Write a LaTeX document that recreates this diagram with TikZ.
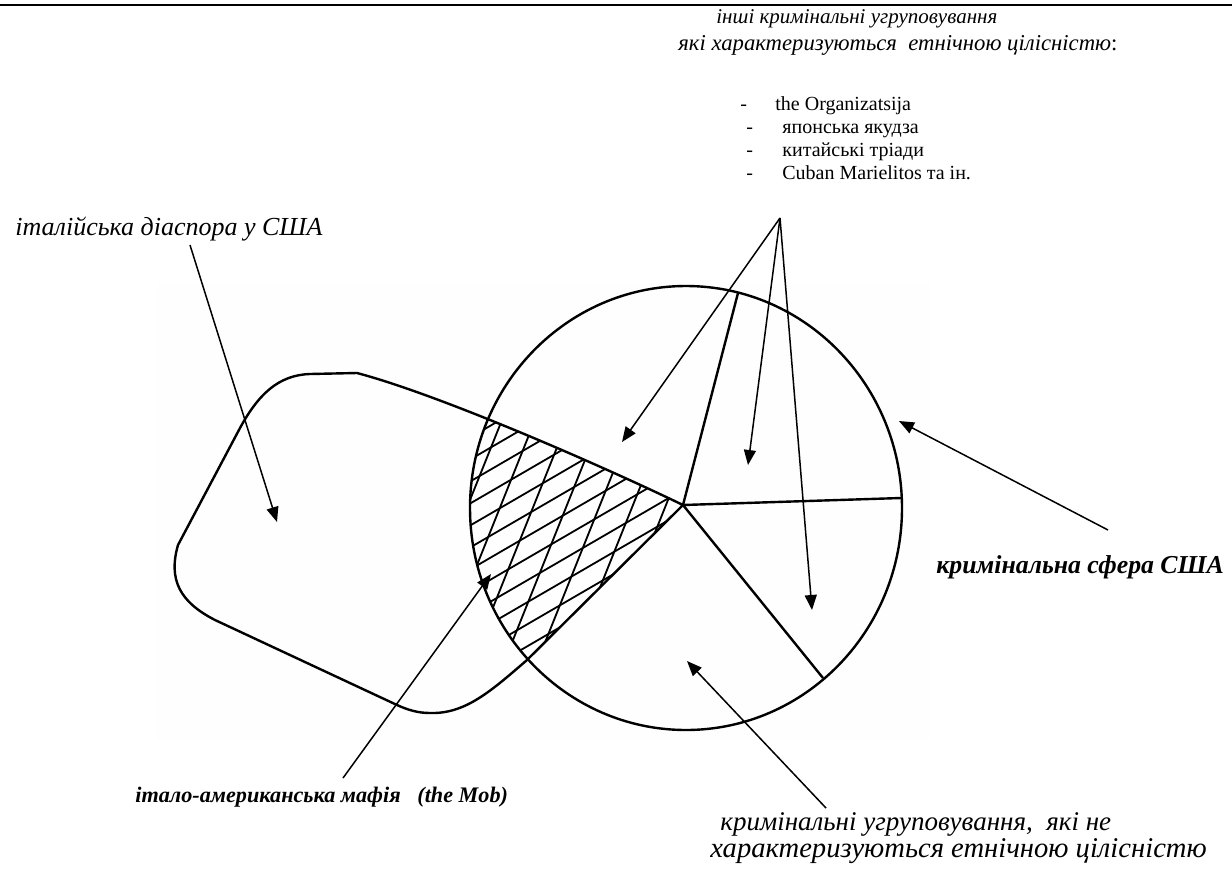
\documentclass[tikz,border=0pt]{standalone}
\usepackage{fontspec}
\setmainfont{Liberation Serif}
\usetikzlibrary{arrows.meta}

\begin{document}
\begin{tikzpicture}[x=0.5pt,y=-0.5pt,
  outl/.style={line width=1.2pt,line join=round},
  hatch/.style={line width=0.9pt},
  ptr/.style={line width=0.75pt,-{Triangle[length=7.5pt,width=6pt]}},
  lbl/.style={inner sep=0pt,anchor=base west,font=\itshape},
  itm/.style={inner sep=0pt,anchor=base west,font=\fontsize{10}{12}\selectfont}]
\definecolor{cbg}{rgb}{0.995,0.995,0.995}
%
\useasboundingbox (0,0) rectangle (1232,879);
\fill[cbg] (157,283) rectangle (930,740);
\draw[line width=1.2pt] (0,5) -- (1232,5);
%
\node[lbl,font=\itshape\fontsize{10.5}{12}\selectfont] (t0) at (716,23) {інші кримінальні угруповування};
\node[lbl,font=\itshape\fontsize{11.35}{13}\selectfont] (t1) at (678,50) {які характеризуються\ \ етнічною цілісністю{\upshape:}};
\node[itm] (d0) at (740,110) {-};
\node[itm] (i0) at (775,110) {the Organizatsija};
\node[itm] (d1) at (746,133) {-};
\node[itm] (i1) at (782,133) {японська якудза};
\node[itm] (d2) at (746,156) {-};
\node[itm] (i2) at (782,156) {китайські тріади};
\node[itm] (d3) at (746,179) {-};
\node[itm] (i3) at (782,179) {Cuban Marielitos та ін.};
\node[lbl,font=\itshape\fontsize{13}{15}\selectfont] (t2) at (15,235) {італійська діаспора у США};
\node[lbl,font=\bfseries\itshape\fontsize{12.9}{15}\selectfont] (t3) at (936,573) {кримінальна сфера США};
\node[lbl,font=\bfseries\itshape\fontsize{11.1}{13}\selectfont] (t4) at (135,802) {італо-американська мафія\ \ \ (the Mob)};
\node[lbl,font=\itshape\fontsize{13.5}{16}\selectfont] (t5) at (720,830) {кримінальні угруповування,\ \ які не};
\node[lbl,font=\itshape\fontsize{14.3}{16}\selectfont] (t6) at (710,857) {характеризуються етнічною цілісністю};
%
\coordinate (J) at (683,505);
\coordinate (q0) at (738,293);
\coordinate (q1) at (901,498);
\coordinate (q2) at (823,678);
\coordinate (q3) at (527,660);
%
\draw[outl] (310,374) -- (357,373) .. controls (440,395) and (600,465) .. (J) -- (q3)
  .. controls (490,692) and (465,714) .. (430,713) .. controls (418,713) and (408,710) .. (397,705)
  -- (215,620) .. controls (180,602) and (168,580) .. (178,545) -- (240,428)
  .. controls (258,395) and (278,375) .. (310,374) -- cycle;
\draw[outl] (686,508) ellipse [x radius=108pt,y radius=111pt];
\draw[outl] (J) -- (q0);
\draw[outl] (J) -- (q1);
\draw[outl] (J) -- (q2);
%
\begin{scope}
\clip (686,508) ellipse [x radius=108pt,y radius=111pt];
\clip (440,390) -- (357,373) .. controls (440,395) and (600,465) .. (J) -- (q3) -- (440,760) -- cycle;
\foreach \c in {455,477,...,710}
  \draw[hatch] (440,\c) -- (760,\c-186);
\foreach \c in {510,543,...,710}
  \draw[hatch] (\c,400) -- (\c-120,700);
\end{scope}
%
\coordinate (s0) at (190,245);
\coordinate (e0) at (277,522);
\coordinate (s1) at (780,218);
\coordinate (e1) at (622,442);
\coordinate (e2) at (748,465);
\coordinate (e3) at (812,610);
\coordinate (s4) at (1108,530);
\coordinate (e4) at (899,421);
\coordinate (s5) at (343,778);
\coordinate (e5) at (491,574);
\coordinate (s6) at (826,808);
\coordinate (e6) at (687,661);
%
\draw[ptr] (s0) -- (e0);
\draw[ptr] (s1) -- (e1);
\draw[ptr] (s1) -- (e2);
\draw[ptr] (s1) -- (e3);
\draw[ptr] (s4) -- (e4);
\draw[ptr] (s5) -- (e5);
\draw[ptr] (s6) -- (e6);
%
\end{tikzpicture}
\end{document}
